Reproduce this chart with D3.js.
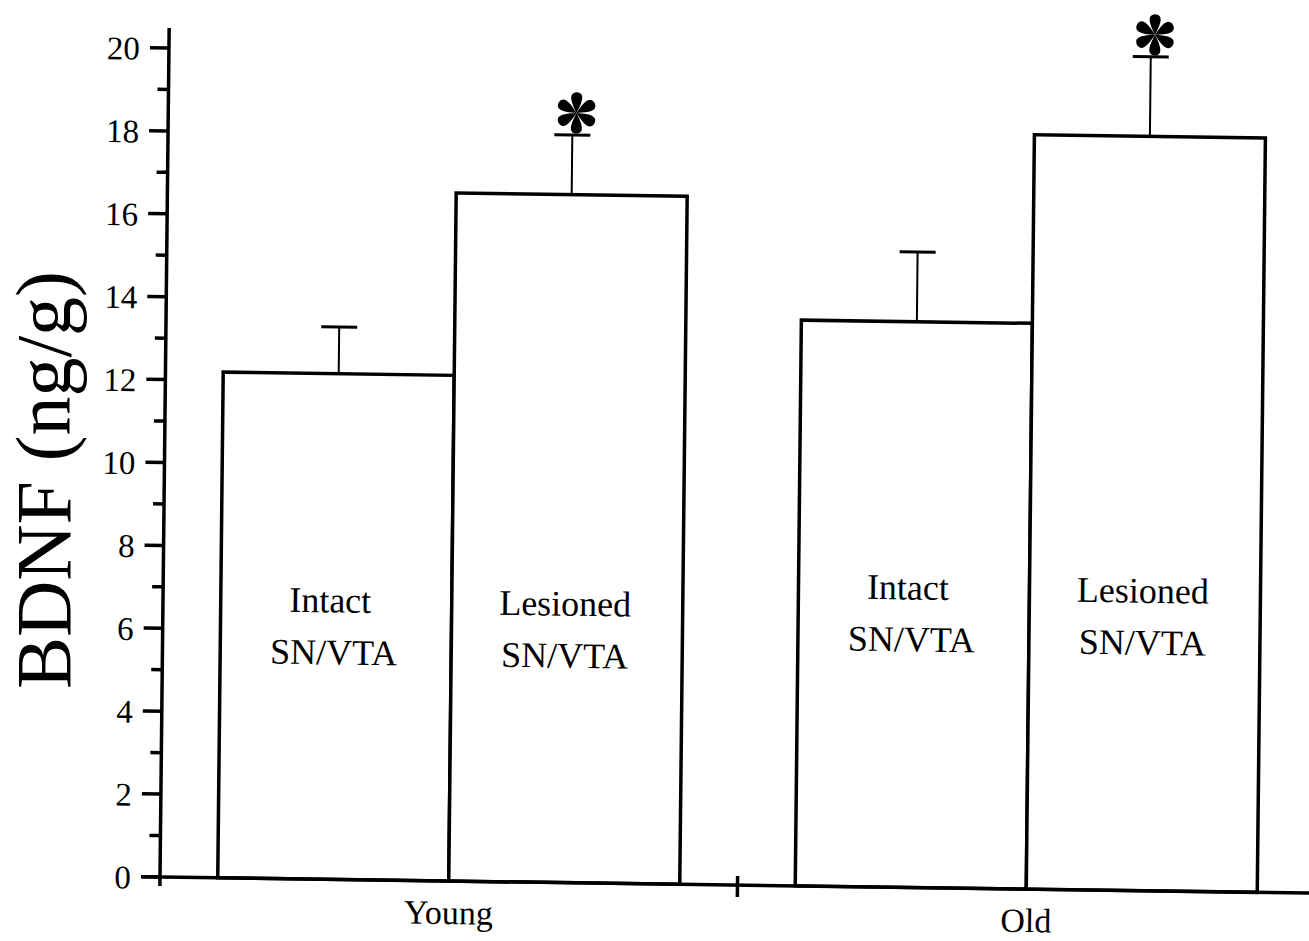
<!DOCTYPE html>
<html>
<head>
<meta charset="utf-8">
<script src="https://cdn.jsdelivr.net/npm/d3@7"></script>
<style>
  html, body { margin: 0; padding: 0; background: #fff; }
  svg { display: block; }
  text { font-family: "Liberation Serif", "Times New Roman", serif; fill: #000; }
</style>
</head>
<body>
<svg id="chart" width="1309" height="941"></svg>
<script>
// ---- data ----
const groups = ["Young", "Old"];
const conditions = ["Intact", "Lesioned"];
const meanYoung = [12.2, 16.6];
const meanOld = [13.65, 18.2];
const errYoung = [1.13, 1.44];
const errOld = [1.68, 1.92];
const significant = [[false, true], [false, true]];
const barLabelLine1 = ["Intact", "Lesioned"];
const barLabelLine2 = ["SN/VTA", "SN/VTA"];
const yTicks = [0, 2, 4, 6, 8, 10, 12, 14, 16, 18, 20];
const yLabel = "BDNF (ng/g)";

const rows = [];
groups.forEach((g, gi) => {
  const means = gi === 0 ? meanYoung : meanOld;
  const errs = gi === 0 ? errYoung : errOld;
  conditions.forEach((c, ci) => {
    rows.push({group: g, gi, cond: c, ci, mean: means[ci], err: errs[ci], sig: significant[gi][ci]});
  });
});

// ---- layout ----
const svg = d3.select("#chart");
const ox = 160, oy = 877;
// slight scan skew of the original figure
const shX = -0.0108, shY = 0.014;
const root = svg.append("g")
  .attr("transform", `matrix(1,${shY},${shX},1,${-shX*oy},${-shY*ox})`);

const y = d3.scaleLinear().domain([0, 20]).range([oy, 48]);
const x0 = d3.scaleBand().domain(groups).range([ox, 1315]).paddingInner(0.2).paddingOuter(0.1);
const x1 = d3.scaleBand().domain(conditions).range([0, x0.bandwidth()]).padding(0);

// bars
root.selectAll("rect.bar").data(rows).join("rect")
  .attr("class", "bar")
  .attr("x", d => x0(d.group) + x1(d.cond))
  .attr("y", d => y(d.mean))
  .attr("width", x1.bandwidth())
  .attr("height", d => y(0) - y(d.mean))
  .attr("fill", "#fff")
  .attr("stroke", "#000")
  .attr("stroke-width", 3.5);

// error bars
const cx = d => x0(d.group) + x1(d.cond) + x1.bandwidth() / 2;
root.selectAll("line.err").data(rows).join("line")
  .attr("x1", cx).attr("x2", cx)
  .attr("y1", d => y(d.mean)).attr("y2", d => y(d.mean + d.err))
  .attr("stroke", "#000").attr("stroke-width", 2);
root.selectAll("line.cap").data(rows).join("line")
  .attr("x1", d => cx(d) - 18).attr("x2", d => cx(d) + 18)
  .attr("y1", d => y(d.mean + d.err)).attr("y2", d => y(d.mean + d.err))
  .attr("stroke", "#000").attr("stroke-width", 3);

// significance asterisks (six teardrop petals)
const petal = "M0,0 C-3,-6 -7,-14 -5,-18 C-3,-21.5 3,-21.5 5,-18 C7,-14 3,-6 0,0 Z";
const stars = root.selectAll("g.star").data(rows.filter(d => d.sig)).join("g")
  .attr("transform", d => `translate(${cx(d) + 4},${y(d.mean + d.err) - 22})`);
d3.range(6).forEach(i => {
  stars.append("path").attr("d", petal).attr("transform", `rotate(${i * 60})`).attr("fill", "#000");
});

// bar labels
const labelDy = [0, -21];
root.selectAll("text.l1").data(rows).join("text")
  .attr("x", d => cx(d) - (d.ci === 0 ? 6 : 2))
  .attr("y", d => 610 + labelDy[d.gi])
  .attr("text-anchor", "middle").attr("font-size", 36)
  .text(d => barLabelLine1[d.ci]);
root.selectAll("text.l2").data(rows).join("text")
  .attr("x", d => cx(d) - 2)
  .attr("y", d => 662 + labelDy[d.gi])
  .attr("text-anchor", "middle").attr("font-size", 36)
  .text(d => barLabelLine2[d.ci]);

// y axis
root.append("line").attr("x1", ox).attr("x2", ox).attr("y1", 28).attr("y2", 886)
  .attr("stroke", "#000").attr("stroke-width", 3.5);
root.selectAll("line.major").data(yTicks).join("line")
  .attr("x1", ox - 19).attr("x2", ox).attr("y1", d => y(d)).attr("y2", d => y(d))
  .attr("stroke", "#000").attr("stroke-width", 3.5);
const minor = d3.range(1, 20, 2);
root.selectAll("line.minor").data(minor).join("line")
  .attr("x1", ox - 11).attr("x2", ox).attr("y1", d => y(d)).attr("y2", d => y(d))
  .attr("stroke", "#000").attr("stroke-width", 3.5);
root.selectAll("text.tick").data(yTicks).join("text")
  .attr("x", ox - 29).attr("y", d => y(d) + 12)
  .attr("text-anchor", "end").attr("font-size", 33)
  .text(d => d);

// x axis
root.append("line").attr("x1", 142).attr("x2", 1330).attr("y1", oy).attr("y2", oy)
  .attr("stroke", "#000").attr("stroke-width", 3.5);
const midTick = (x0("Young") + x0.bandwidth() + x0("Old")) / 2;
root.append("line").attr("x1", midTick).attr("x2", midTick).attr("y1", oy - 9).attr("y2", oy + 12)
  .attr("stroke", "#000").attr("stroke-width", 3.5);
root.selectAll("text.cat").data(groups).join("text")
  .attr("x", d => x0(d) + x0.bandwidth() / 2)
  .attr("y", 920)
  .attr("text-anchor", "middle").attr("font-size", 34)
  .text(d => d);

// y label
svg.append("text")
  .attr("transform", "translate(70,480) rotate(-90)")
  .attr("text-anchor", "middle").attr("font-size", 78)
  .text(yLabel);
</script>
</body>
</html>
